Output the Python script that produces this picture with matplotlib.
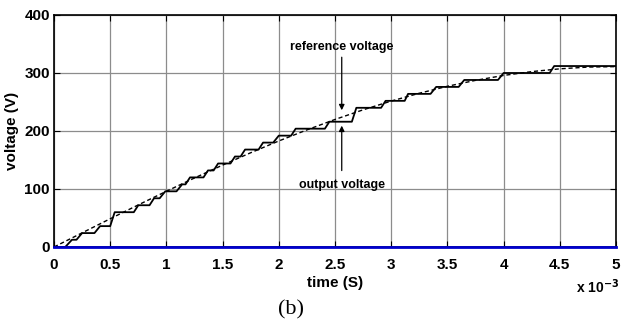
import matplotlib
matplotlib.use("Agg")
import matplotlib.pyplot as plt

# reference voltage samples (time in ms, volts)
ref_t = [0, 0.25, 0.5, 0.75, 1.0, 1.25, 1.5, 1.75, 2.0, 2.25, 2.5, 2.75, 3.0,
         3.25, 3.5, 3.75, 4.0, 4.25, 4.5, 4.75, 5.0]
ref_v = [0, 24.4, 48.7, 72.6, 96.1, 119.0, 141.2, 162.5, 182.8, 201.9, 219.9,
         236.5, 251.6, 265.1, 277.1, 287.3, 295.8, 302.4, 307.2, 310.2, 311.0]

# output voltage staircase corners (time in ms, volts)
out_t = [0, 0.10, 0.16, 0.20, 0.25, 0.36, 0.41, 0.50, 0.54, 0.71, 0.75, 0.85,
         0.89, 0.94, 0.99, 1.09, 1.14, 1.17, 1.21, 1.33, 1.37, 1.42, 1.46,
         1.57, 1.61, 1.66, 1.70, 1.82, 1.86, 1.95, 2.00, 2.11, 2.15, 2.41,
         2.45, 2.65, 2.69, 2.91, 2.95, 3.12, 3.15, 3.35, 3.40, 3.60, 3.65,
         3.95, 4.00, 4.41, 4.45, 5.0]
out_v = [0, 0, 12.5, 12.5, 24, 24, 36, 36, 60, 60, 72, 72, 84, 84, 96, 96,
         108, 108, 120, 120, 132, 132, 144, 144, 156, 156, 168, 168, 180, 180,
         192, 192, 204, 204, 216, 216, 240, 240, 252, 252, 264, 264, 276, 276,
         288, 288, 300, 300, 312, 312]

base_t = [0, 5.0]
base_v = [0, 0]

x_ticks = [0, 0.5, 1, 1.5, 2, 2.5, 3, 3.5, 4, 4.5, 5]
x_ticklabels = ["0", "0.5", "1", "1.5", "2", "2.5", "3", "3.5", "4", "4.5", "5"]
y_ticks = [0, 100, 200, 300, 400]

FONT = ["Liberation Sans", "DejaVu Sans"]
plt.rcParams["font.family"] = FONT

fig = plt.figure(figsize=(6.28, 3.27), dpi=100)
ax = fig.add_axes([54/628, 1-247/327, (616-54)/628, (247-15)/327])

ax.plot(out_t, out_v, color="black", lw=1.3, zorder=3)
ax.plot(ref_t, ref_v, color="black", lw=1.0, ls=(0, (3, 2)), zorder=4)
ax.plot(base_t, base_v, color="#0000cc", lw=2.0, zorder=5, clip_on=False)

ax.set_xlim(0, 5)
ax.set_ylim(0, 400)
ax.set_xticks(x_ticks)
ax.set_xticklabels(x_ticklabels)
ax.set_yticks(y_ticks)
ax.grid(True, color="#8c8c8c", lw=0.9)
ax.tick_params(direction="in", top=True, right=True, length=4, width=0.8,
               labelsize=11)
ax.tick_params(axis="x", pad=8)
ax.tick_params(axis="y", pad=3)
for lab in ax.get_xticklabels() + ax.get_yticklabels():
    lab.set_fontweight("bold")
for s in ax.spines.values():
    s.set_linewidth(1.2)
    s.set_color("black")

ax.set_xlabel("time (S)", fontsize=11, fontweight="bold", labelpad=3)
ax.set_ylabel("voltage (V)", fontsize=11, fontweight="bold", labelpad=4)

ax.text(2.56, 345, "reference voltage", ha="center", va="center",
        fontsize=9, fontweight="bold")
ax.annotate("", xy=(2.56, 231), xytext=(2.56, 332),
            arrowprops=dict(arrowstyle="-|>", color="black", lw=0.9,
                            mutation_scale=8))
ax.text(2.56, 107, "output voltage", ha="center", va="center",
        fontsize=9, fontweight="bold")
ax.annotate("", xy=(2.56, 214), xytext=(2.56, 127),
            arrowprops=dict(arrowstyle="-|>", color="black", lw=0.9,
                            mutation_scale=8))

fig.text(598/628, 1-287/327, r"x 10$^{\mathbf{-3}}$", ha="center", va="center",
         fontsize=10, fontweight="bold")
fig.text(291/628, 1-310/327, "(b)", ha="center", va="center",
         fontsize=16, family=["Liberation Serif", "DejaVu Serif"])

fig.savefig("out.png", dpi=100)
